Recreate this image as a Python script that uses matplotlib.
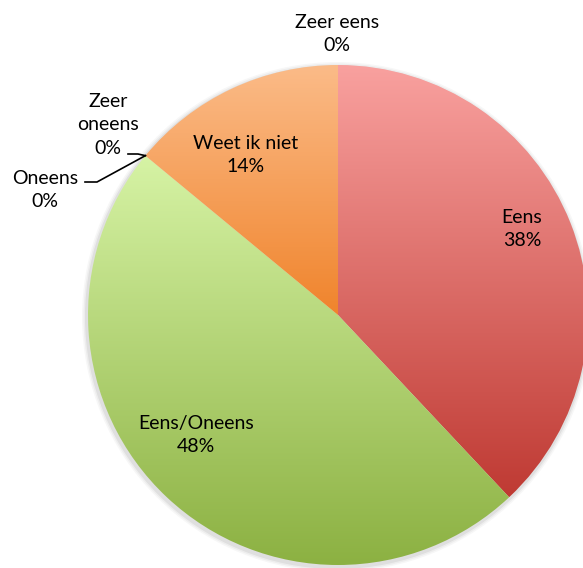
import numpy as np
import matplotlib
matplotlib.use("Agg")
import matplotlib.pyplot as plt
from matplotlib.colors import LinearSegmentedColormap

# data (clockwise from 12 o'clock)
labels = ["Zeer eens", "Eens", "Eens/Oneens", "Oneens", "Zeer\noneens", "Weet ik niet"]
values = [0, 38, 48, 0, 0, 14]
top_colors = ["#f9a19f", "#f9a19f", "#d6f3a5", "#d6f3a5", "#fbbb88", "#fbbb88"]
bottom_colors = ["#bf3a33", "#bf3a33", "#8cb142", "#8cb142", "#f0842c", "#f0842c"]

W, H = 583, 568
fig = plt.figure(figsize=(W / 100, H / 100), dpi=100)
ax = fig.add_axes([0, 0, 1, 1])

def px(x, y):
    # pixel position (origin top-left) -> data coords
    return x, H - y

cx, cy = px(338, 315)
R = 250

# soft shadow under the pie
for k, a in [(5, 0.03), (3.5, 0.04), (2, 0.06)]:
    ax.add_patch(plt.Circle((cx - 1, cy - 2), R + k, color="black", alpha=a, lw=0, zorder=0))

wedges, _ = ax.pie(values, center=(cx, cy), radius=R, startangle=90,
                   counterclock=False, wedgeprops=dict(linewidth=0))

# vertical gradient per slice
for w, c0, c1 in zip(wedges, top_colors, bottom_colors):
    if w.theta2 - w.theta1 <= 0:
        continue
    th = np.radians(np.linspace(w.theta1, w.theta2, 300))
    ys = np.concatenate([[cy], cy + R * np.sin(th)])
    y0, y1 = ys.min(), ys.max()
    cmap = LinearSegmentedColormap.from_list("g", [c1, c0])
    grad = np.linspace(0, 1, 256).reshape(-1, 1)
    im = ax.imshow(grad, cmap=cmap, extent=(cx - R, cx + R, y0, y1),
                   origin="lower", aspect="auto", zorder=2)
    im.set_clip_path(w)
    w.set_facecolor("none")

# label positions (pixel centres of the text blocks)
label_pos = [(337, 34), (522, 229), (196, 435), (45, 190), (108, 125), (246, 155)]
font = dict(family=["Lato", "DejaVu Sans"], fontsize=14, color="black")
for lab, v, (x, y) in zip(labels, values, label_pos):
    ax.text(*px(x, y), f"{lab}\n{v}%", ha="center", va="center",
            linespacing=1.45, zorder=5, **font)

# leader lines for the two zero slices on the left
ang = np.radians(wedges[3].theta1)
tip = (cx + R * np.cos(ang), cy + R * np.sin(ang))
for hx0, hx1, hy in [(128, 138, 154), (85, 97, 182)]:
    p0 = px(hx0, hy)
    p1 = px(hx1, hy)
    ax.plot([p0[0], p1[0], tip[0]], [p0[1], p1[1], tip[1]],
            color="black", lw=1.2, zorder=5, solid_joinstyle="miter")

ax.set_xlim(0, W)
ax.set_ylim(0, H)
ax.set_aspect("equal")
ax.axis("off")

fig.savefig("out.png", dpi=100)
